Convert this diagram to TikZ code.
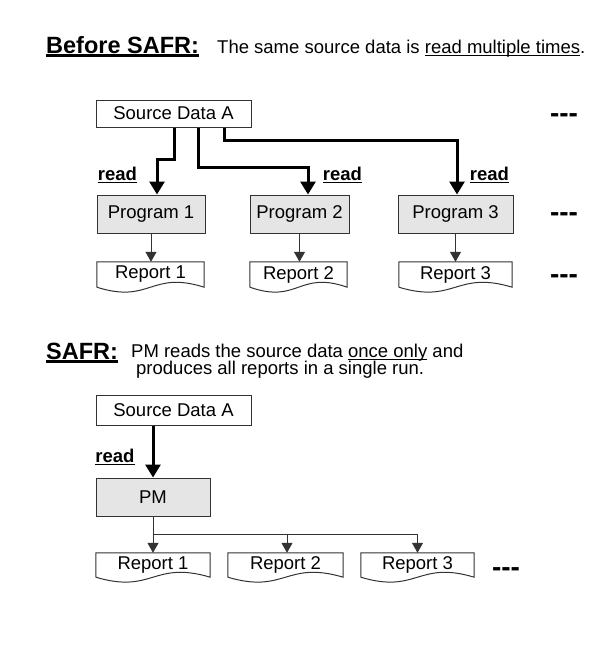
\documentclass[tikz,border=0pt]{standalone}
\usepackage{fontspec}
\setmainfont{Liberation Sans}
\usetikzlibrary{arrows.meta,calc}
\newcommand{\ulx}[3]{\setbox0\hbox{#3}\rlap{\raisebox{-#2}{\rule{\wd0}{#1}}}\box0\relax}
\newcommand{\docshape}[1]{\draw[docline] (#1.south west) -- (#1.north west) -- (#1.north east) -- (#1.south east)
  .. controls ($(#1.south east)!0.5!(#1.south west)+(0,-17)$) and ($(#1.south east)!0.5!(#1.south west)+(0,17)$) .. (#1.south west);}
\begin{document}
\begin{tikzpicture}[x=1pt,y=-1pt,
  txt/.style={font=\fontsize{18.5}{20}\selectfont, inner sep=0pt},
  ttl/.style={font=\fontsize{23.5}{26}\bfseries\selectfont, inner sep=0pt},
  box/.style={draw=black!80, line width=1pt, inner sep=0pt, font=\fontsize{18.5}{20}\selectfont},
  prog/.style={box, fill=black!10},
  rep/.style={inner sep=0pt, font=\fontsize{18.5}{20}\selectfont},
  docline/.style={draw=black!80, line width=1pt},
  bigarrow/.style={line width=3pt, -{Triangle[width=15pt,length=13pt]}},
  smallarrow/.style={draw=black!80, line width=1pt, -{Triangle[width=11pt,length=10pt]}},
  thinline/.style={draw=black!80, line width=1pt},
  rdlbl/.style={font=\fontsize{18.5}{20}\bfseries\selectfont, inner sep=0pt},
  dots/.style={font=\fontsize{28}{30}\bfseries\selectfont, inner sep=0pt, anchor=base}
]
\useasboundingbox (0,0) rectangle (602,657);

% ---------- headings ----------
\node[ttl, anchor=base west] (t1) at (46,53) {\ulx{3pt}{4pt}{Before SAFR:}};
\node[txt, anchor=base west] (s1) at (217,53) {The same source data is \ulx{1pt}{3pt}{read multiple times}.};

\node[ttl, anchor=base west] (t2) at (46,359) {\ulx{3pt}{4pt}{SAFR:}};
\node[font=\fontsize{18.5}{17.5}\selectfont, inner sep=0pt, align=left, anchor=north west] (s2) at (131,343.5)
  {PM reads the source data \ulx{1pt}{3pt}{once only} and\\\hspace*{5pt}produces all reports in a single run.};

% ---------- top diagram ----------
\node[box, minimum width=155, minimum height=27] (srcA) at (173.5,113.5) {Source Data A};
\node[prog, minimum width=108, minimum height=38] (p1) at (151,214) {Program 1};
\node[prog, minimum width=99, minimum height=38] (p2) at (299.5,214) {Program 2};
\node[prog, minimum width=115, minimum height=38] (p3) at (455.5,214) {Program 3};

\node[rep, minimum width=107, minimum height=25] (r1) at (150.5,274.5) {Report 1};
\node[rep, minimum width=97, minimum height=25] (r2) at (298.5,274.5) {Report 2};
\node[rep, minimum width=113, minimum height=25] (r3) at (455.5,274.5) {Report 3};
\docshape{r1}
\docshape{r2}
\docshape{r3}

\draw[bigarrow] ([xshift=0.5]srcA.south) -- ++(0,32) -| ([xshift=6]p1.north);
\draw[bigarrow] ([xshift=24.5]srcA.south) -- ++(0,40) -| ([xshift=8.5]p2.north);
\draw[bigarrow] ([xshift=50.5]srcA.south) -- ++(0,13) -| ([xshift=1.5]p3.north);

\draw[smallarrow] (p1.south) -- (p1.south |- r1.north);
\draw[smallarrow] (p2.south) -- (p2.south |- r2.north);
\draw[smallarrow] (p3.south) -- (p3.south |- r3.north);

\node[rdlbl] (rd1) at (117.5,175) {\ulx{1.5pt}{3pt}{read}};
\node[rdlbl] (rd2) at (342.5,175) {\ulx{1.5pt}{3pt}{read}};
\node[rdlbl] (rd3) at (489.5,175) {\ulx{1.5pt}{3pt}{read}};

\node[dots] (d1) at (564,122) {-{}-{}-};
\node[dots] (d2) at (564,221) {-{}-{}-};
\node[dots] (d3) at (564,283) {-{}-{}-};

% ---------- bottom diagram ----------
\node[box, minimum width=155, minimum height=30] (srcB) at (173.5,410) {Source Data A};
\node[prog, minimum width=114, minimum height=38] (pm) at (153,497) {PM};

\node[rep, minimum width=114, minimum height=24] (rb1) at (153,565) {Report 1};
\node[rep, minimum width=115, minimum height=24] (rb2) at (285.5,565) {Report 2};
\node[rep, minimum width=113, minimum height=24] (rb3) at (417.5,565) {Report 3};
\docshape{rb1}
\docshape{rb2}
\docshape{rb3}

\draw[bigarrow] (srcB.south -| pm.north) -- (pm.north);
\node[rdlbl] (rd4) at (115,457) {\ulx{1.5pt}{3pt}{read}};

\draw[thinline] (pm.south) -- ++(0,18) coordinate (split);
\draw[smallarrow] (split) -- (rb1.north);
\draw[smallarrow] (split) -| ([xshift=1.5]rb2.north);
\draw[smallarrow] (split) -| (rb3.north);

\node[dots] (d4) at (506,576) {-{}-{}-};
\end{tikzpicture}
\end{document}
